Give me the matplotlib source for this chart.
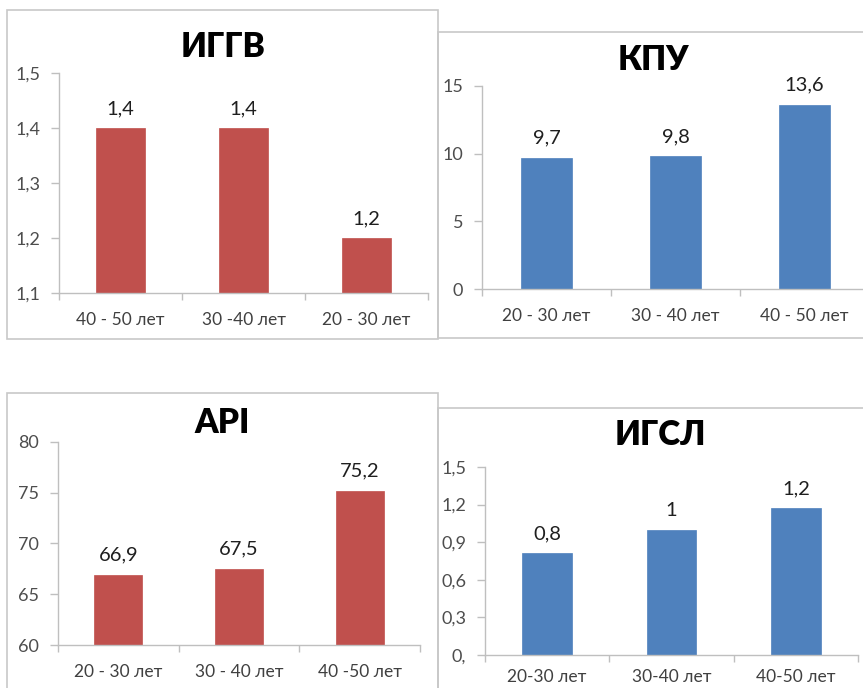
import matplotlib.pyplot as plt
from matplotlib.patches import Rectangle

plt.rcParams['font.family'] = ['Lato', 'DejaVu Sans']

# data
iggv_cats = ['40 - 50 лет', '30 -40 лет', '20 - 30 лет']
iggv_vals = [1.4, 1.4, 1.2]
iggv_ticks = [1.1, 1.2, 1.3, 1.4, 1.5]
iggv_ticklabels = ['1,1', '1,2', '1,3', '1,4', '1,5']

kpu_cats = ['20 - 30 лет', '30 - 40 лет', '40 - 50 лет']
kpu_vals = [9.7, 9.8, 13.6]
kpu_ticks = [0, 5, 10, 15]
kpu_ticklabels = ['0', '5', '10', '15']

api_cats = ['20 - 30 лет', '30 - 40 лет', '40 -50 лет']
api_vals = [66.9, 67.5, 75.2]
api_ticks = [60, 65, 70, 75, 80]
api_ticklabels = ['60', '65', '70', '75', '80']

igsl_cats = ['20-30 лет', '30-40 лет', '40-50 лет']
igsl_vals = [0.81, 1.0, 1.17]
igsl_ticks = [0, 0.3, 0.6, 0.9, 1.2, 1.5]
igsl_ticklabels = ['0,', '0,3', '0,6', '0,9', '1,2', '1,5']

RED = '#C0504D'
BLUE = '#4F81BD'
W, H = 863, 688

fig = plt.figure(figsize=(W / 100, H / 100), dpi=100)


def px_axes(x0, y0, x1, y1):
    # pixel box (top-left origin) -> figure axes
    return fig.add_axes([x0 / W, 1 - y1 / H, (x1 - x0) / W, (y1 - y0) / H])


def frame(x0, y0, x1, y1):
    fig.patches.append(Rectangle((x0 / W, 1 - y1 / H), (x1 - x0) / W, (y1 - y0) / H,
                                 transform=fig.transFigure, fill=False,
                                 edgecolor='#C8C8C8', lw=1.2))


def panel(box, title, title_xy, cats, vals, ylim, ticks, ticklabels, color, xpad=14):
    ax = px_axes(*box)
    xs = range(len(cats))
    bars = ax.bar(xs, vals, width=0.4, color=color, edgecolor=color, lw=0.5)
    ax.set_xlim(-0.5, len(cats) - 0.5)
    ax.set_ylim(*ylim)
    ax.set_yticks(ticks)
    ax.set_yticklabels(ticklabels)
    ax.set_xticks(list(xs))
    ax.set_xticklabels(cats)
    ax.set_xticks([i - 0.5 for i in range(len(cats) + 1)], minor=True)
    ax.tick_params(axis='x', which='major', length=0, pad=xpad, labelsize=12.5, labelcolor='#404040')
    ax.tick_params(axis='x', which='minor', length=5, color='#BFBFBF', width=1)
    ax.tick_params(axis='y', length=5.5, color='#BFBFBF', width=1, pad=8,
                   labelsize=13, labelcolor='#4D4D4D')
    for s in ['top', 'right']:
        ax.spines[s].set_visible(False)
    for s in ['left', 'bottom']:
        ax.spines[s].set_color('#BFBFBF')
        ax.spines[s].set_linewidth(1)
    for b, v in zip(bars, vals):
        ax.annotate(f'{round(v, 1):g}'.replace('.', ','),
                    (b.get_x() + b.get_width() / 2, b.get_height()),
                    xytext=(0, 8), textcoords='offset points',
                    ha='center', va='bottom', fontsize=14.5, color='#1F1F1F')
    fig.text(title_xy[0] / W, 1 - title_xy[1] / H, title, ha='center', va='center',
             fontsize=24, fontweight='heavy', color='black')
    return ax


frame(7, 10, 438, 339)
frame(438, 32, 880, 338)
frame(7, 393, 438, 700)
frame(438, 408, 880, 700)

panel((59, 73, 428, 293), 'ИГГВ', (223, 47), iggv_cats, iggv_vals,
      (1.1, 1.5), iggv_ticks, iggv_ticklabels, RED)
panel((482, 86, 869, 289), 'КПУ', (653, 60), kpu_cats, kpu_vals,
      (0, 15), kpu_ticks, kpu_ticklabels, BLUE)
panel((58, 442, 420, 645), 'API', (222, 423), api_cats, api_vals,
      (60, 80), api_ticks, api_ticklabels, RED)
panel((485, 467, 858, 655), 'ИГСЛ', (660, 435), igsl_cats, igsl_vals,
      (0, 1.5), igsl_ticks, igsl_ticklabels, BLUE, xpad=10)

fig.savefig('out.png', dpi=100)
